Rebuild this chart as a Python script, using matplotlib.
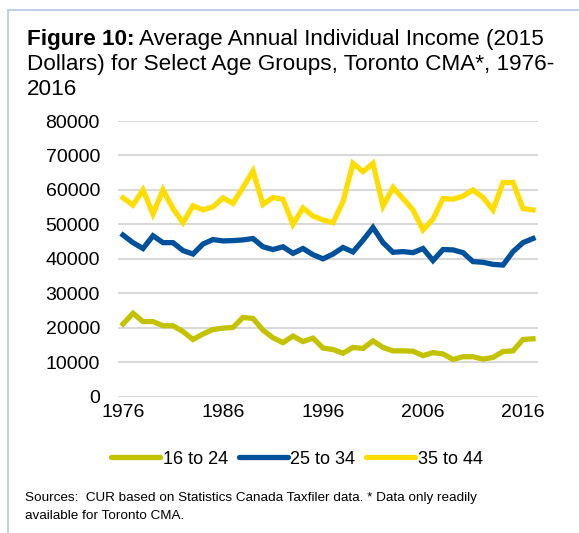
import numpy as np
import matplotlib
matplotlib.use("Agg")
import matplotlib.pyplot as plt
from matplotlib.lines import Line2D

plt.rcParams['font.family'] = ['Liberation Sans', 'DejaVu Sans']

# data (2015 dollars)
years = list(range(1976, 2018))
age_16_24 = [21100, 24200, 21800, 21800, 20600, 20600, 18900, 16600, 18200, 19500,
             19900, 20100, 23000, 22700, 19300, 17100, 15700, 17600, 16000, 17000,
             14100, 13700, 12600, 14300, 14000, 16200, 14300, 13300, 13300, 13200,
             11900, 12800, 12400, 10800, 11600, 11600, 10900, 11400, 13100, 13300,
             16600, 16800]
age_25_34 = [46900, 44700, 43000, 46700, 44700, 44700, 42400, 41400, 44300, 45600,
             45200, 45300, 45500, 45900, 43500, 42700, 43500, 41600, 43000, 41200,
             40000, 41400, 43300, 42000, 45400, 49100, 44700, 41900, 42100, 41800,
             43000, 39500, 42700, 42600, 41800, 39200, 39000, 38400, 38200, 42100,
             44700, 45900]
age_35_44 = [57700, 55600, 60000, 53000, 60000, 54600, 50500, 55400, 54200, 55100,
             57700, 56100, 60700, 65500, 55800, 57800, 57300, 50000, 54800, 52400,
             51300, 50500, 56600, 67700, 65300, 67700, 55300, 60700, 57500, 54200,
             48400, 51500, 57500, 57300, 58200, 60000, 57800, 54200, 62100, 62200,
             54600, 54200]
series_names = ['16 to 24', '25 to 34', '35 to 44']
colors = ['#C2C200', '#00519C', '#FFDD00']
xtick_years = [1976, 1986, 1996, 2006, 2016]
yticks = list(range(0, 80001, 10000))

fig = plt.figure(figsize=(5.79, 5.33), dpi=100)
ax = fig.add_axes([118/579, 1-396.7/533, 420/579, 275.7/533])

for vals, c, name in zip([age_16_24, age_25_34, age_35_44], colors, series_names):
    ax.plot(years, vals, color=c, lw=3.8, solid_joinstyle='miter', label=name)

ax.set_xlim(1975.5, 2017.5)
ax.set_ylim(0, 80000)
ax.set_yticks(yticks)
ax.set_yticklabels([str(v) for v in yticks])
ax.set_xticks(xtick_years)
ax.set_xticklabels([str(y) for y in xtick_years])
ax.tick_params(axis='both', length=0, labelsize=14)
ax.tick_params(axis='y', pad=13)
ax.tick_params(axis='x', pad=5)
ax.grid(axis='y', color='#D9D9D9', lw=1.5)
ax.set_axisbelow(True)
for s in ax.spines.values():
    s.set_visible(False)

# title: bold lead-in, then regular text
tsize = 16.2
t1 = fig.text(27/579, 1-45/533, 'Figure 10:', fontsize=tsize, fontweight='bold',
              va='baseline', ha='left')
fig.canvas.draw()
ax.annotate(' Average Annual Individual Income (2015', xy=(1, 0), xycoords=t1,
            fontsize=tsize, va='bottom', ha='left', annotation_clip=False)
fig.text(27/579, 1-70/533, 'Dollars) for Select Age Groups, Toronto CMA*, 1976-',
         fontsize=tsize, va='baseline', ha='left')
fig.text(27/579, 1-95/533, '2016', fontsize=tsize, va='baseline', ha='left')

# legend
handles = [Line2D([0], [0], color=c, lw=3.8, solid_capstyle='round') for c in colors]
fig.legend(handles, series_names, loc='center', bbox_to_anchor=(297/579, 1-459/533),
           ncol=3, frameon=False, fontsize=13, handlelength=2.7, handletextpad=0.15,
           columnspacing=0.6, borderpad=0)

fig.text(25/579, 1-498/533,
         'Sources:  CUR based on Statistics Canada Taxfiler data. * Data only readily',
         fontsize=9.7, va='center', ha='left')
fig.text(25/579, 1-516/533, 'available for Toronto CMA.', fontsize=9.7,
         va='center', ha='left')

# light blue frame on top and left
fig.add_artist(Line2D([8/579, 1], [1-10/533, 1-10/533], color='#B4C7E7', lw=1.2))
fig.add_artist(Line2D([8/579, 8/579], [0, 1-10/533], color='#B4C7E7', lw=1.2))

fig.savefig('out.png', dpi=100)
